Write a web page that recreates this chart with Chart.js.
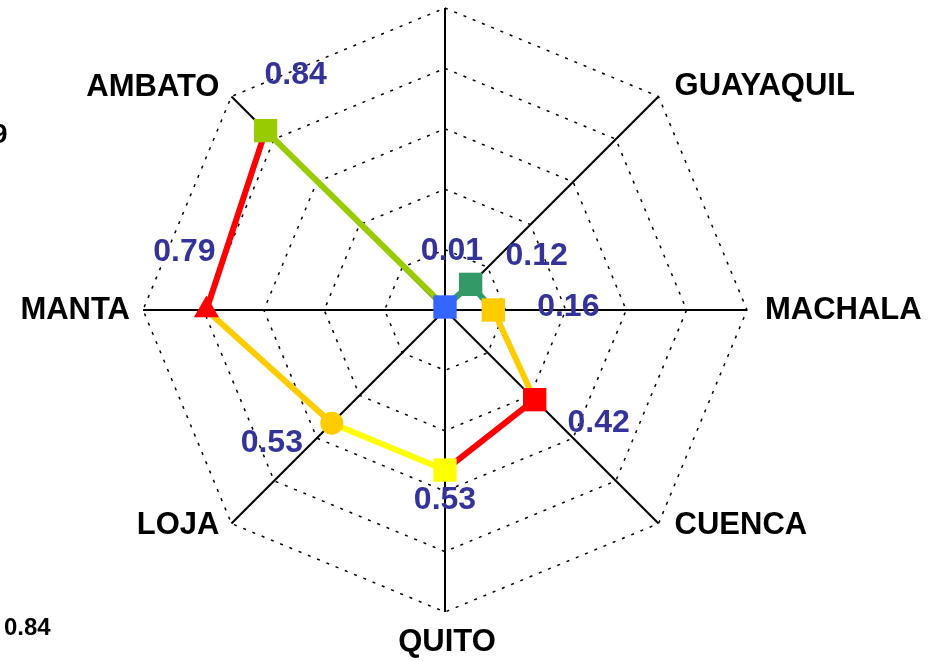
<!DOCTYPE html>
<html>
<head>
<meta charset="utf-8">
<script src="https://cdn.jsdelivr.net/npm/chart.js@4.4.0/dist/chart.umd.min.js"></script>
<style>
  html, body { margin: 0; padding: 0; background: #fff; }
  #wrap { width: 941px; height: 661px; position: relative; }
</style>
</head>
<body>
<div id="wrap"><canvas id="radar"></canvas></div>
<script>
// Data (clockwise from the top spoke, which has no name)
const cities = ['', 'GUAYAQUIL', 'MACHALA', 'CUENCA', 'QUITO', 'LOJA', 'MANTA', 'AMBATO'];
const values = [0.01, 0.12, 0.16, 0.42, 0.53, 0.53, 0.79, 0.84];
const valueTexts = ['0.01', '0.12', '0.16', '0.42', '0.53', '0.53', '0.79', '0.84'];

// Styling
const pointColors = ['#3366ff', '#339966', '#ffcc00', '#ff0000', '#ffff00', '#ffcc00', '#ff0000', '#99cc00'];
const pointShapes = ['rect', 'rect', 'rect', 'rect', 'rect', 'circle', 'triangle', 'rect'];
const pointSizes  = [16.5, 16.5, 16.5, 16.5, 16.5, 11.5, 14.5, 16.5];
// colour of the line leaving each point towards the next one
const segColors   = ['#339966', '#339966', '#ffcc00', '#ff0000', '#ffff00', '#ffcc00', '#ff0000', '#99cc00'];
// value label offset from its point, in px
const labelOffsets = [[7, -56], [66, -28], [75, -3], [64, 23], [0, 30], [-60, 20], [-22, -58], [30, -55]];
// city label offset from the outer end of its spoke, and its alignment
const cityOffsets = [[0, 0], [16, -10], [18, 0], [16, 2], [2, 30], [-12, 2], [-13, 0], [-12, -9]];
const cityAlign   = ['center', 'left', 'left', 'left', 'center', 'right', 'right', 'right'];

const FONT = '"Liberation Sans", Arial, sans-serif';

// radar has no per-segment colours, so every edge is its own 2-point dataset
const segmentSets = values.map((_, i) => {
  const next = (i + 1) % values.length;
  return {
    data: values.map((v, j) => (j === i || j === next ? v : null)),
    fill: false,
    borderWidth: 6,
    borderColor: segColors[i],
    borderCapStyle: 'round',
    pointRadius: 0,
    pointHoverRadius: 0,
    spanGaps: false,
  };
});

/** City names at the spoke ends (drawn here so they don't shrink the radar). */
const cityLabels = {
  id: 'cityLabels',
  afterDraw(chart) {
    const ctx = chart.ctx;
    const r = chart.scales.r;
    ctx.save();
    ctx.font = 'bold 31px ' + FONT;
    ctx.fillStyle = '#000';
    ctx.textBaseline = 'middle';
    cities.forEach((name, i) => {
      if (!name) return;
      const p = r.getPointPosition(i, r.drawingArea);
      ctx.textAlign = cityAlign[i];
      ctx.fillText(name, p.x + cityOffsets[i][0], p.y + cityOffsets[i][1]);
    });
    ctx.restore();
  },
};

/** Blue value next to each point, plus the stray edge texts. */
const valueLabels = {
  id: 'valueLabels',
  afterDatasetsDraw(chart) {
    const ctx = chart.ctx;
    const meta = chart.getDatasetMeta(0);
    ctx.save();
    ctx.font = 'bold 32px ' + FONT;
    ctx.fillStyle = '#333399';
    ctx.textAlign = 'center';
    ctx.textBaseline = 'middle';
    meta.data.forEach((pt, i) => {
      const [dx, dy] = labelOffsets[i];
      ctx.fillText(valueTexts[i], pt.x + dx, pt.y + dy);
    });
    // cut-off texts at the left edge
    ctx.fillStyle = '#000';
    ctx.textAlign = 'left';
    ctx.font = 'bold 28px ' + FONT;
    ctx.fillText('9', -8, 135);
    ctx.font = 'bold 24px ' + FONT;
    ctx.fillText('0.84', 4, 628);
    ctx.restore();
  },
};

new Chart(document.getElementById('radar'), {
  type: 'radar',
  data: {
    labels: cities,
    datasets: [{
      data: values,
      showLine: false,
      fill: false,
      pointStyle: pointShapes,
      pointRadius: pointSizes,
      pointHoverRadius: pointSizes,
      pointBackgroundColor: pointColors,
      pointBorderColor: pointColors,
      pointBorderWidth: 0,
    }, ...segmentSets],
  },
  options: {
    responsive: true,
    maintainAspectRatio: false,
    animation: false,
    events: [],
    layout: { padding: { top: 8, bottom: 49, left: 143, right: 194 } },
    plugins: {
      legend: { display: false },
      tooltip: { enabled: false },
    },
    scales: {
      r: {
        min: 0,
        max: 1,
        ticks: { stepSize: 0.2, display: false },
        grid: { color: '#000', lineWidth: 1.5 },
        border: { dash: [3, 7] },
        angleLines: { color: '#000', lineWidth: 2 },
        pointLabels: { display: false },
      },
    },
  },
  plugins: [valueLabels, cityLabels],
});
</script>
</body>
</html>
